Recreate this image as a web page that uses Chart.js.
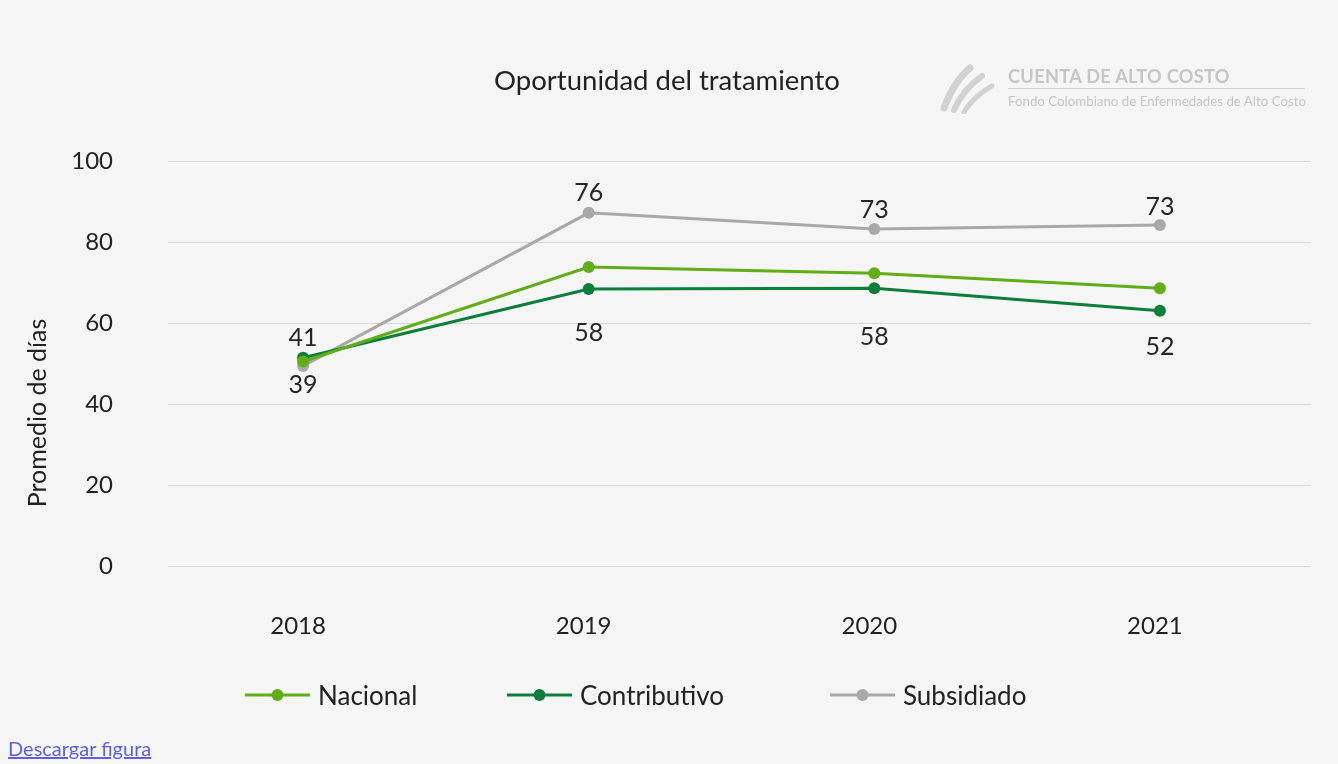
<!DOCTYPE html>
<html>
<head>
<meta charset="utf-8">
<script src="https://cdn.jsdelivr.net/npm/chart.js@4.4.0/dist/chart.umd.min.js"></script>
<style>
  html, body { margin: 0; padding: 0; background: #f6f6f6; }
  body { width: 1338px; height: 764px; position: relative; overflow: hidden; font-family: Lato, "Noto Sans", sans-serif; }
  #wrap { position: absolute; left: 0; top: 0; width: 1338px; height: 764px; }
  #logo { position: absolute; left: 938px; top: 62px; width: 380px; height: 52px; color: #c6c6c6; }
  #logo svg { position: absolute; left: 0; top: 0; }
  #logo .big { position: absolute; left: 70px; top: 3px; font-weight: bold; font-size: 18.2px; letter-spacing: 0.3px; }
  #logo .rule { position: absolute; left: 70px; top: 26px; width: 297px; height: 1px; background: #d0d0d0; }
  #logo .small { position: absolute; left: 70px; top: 31px; font-size: 13.3px; }
  #legend { position: absolute; left: 0; top: 680px; width: 1338px; height: 30px; }
  .item { position: absolute; top: 0; height: 30px; display: flex; align-items: center; font-size: 26px; color: #222; }
  .item svg { margin-right: 8px; }
  #dl { position: absolute; left: 8px; top: 736px; font-size: 20px; color: #5e5ee6; text-decoration: underline; }
</style>
</head>
<body>
<div id="wrap"><canvas id="myChart1"></canvas></div>
<div id="logo">
  <svg width="64" height="52" viewBox="0 0 64 52">
    <path d="M6 46 C12 30 20 16 32 6" stroke="#d2d2d2" stroke-width="7" fill="none" stroke-linecap="round"/>
    <path d="M16 48 C22 34 30 24 44 14" stroke="#d2d2d2" stroke-width="6" fill="none" stroke-linecap="round"/>
    <path d="M26 50 C32 40 40 32 54 24" stroke="#d2d2d2" stroke-width="5" fill="none" stroke-linecap="round"/>
  </svg>
  <div class="big">CUENTA DE ALTO COSTO</div>
  <div class="rule"></div>
  <div class="small">Fondo Colombiano de Enfermedades de Alto Costo</div>
</div>
<div id="legend"></div>
<a id="dl" href="#">Descargar figura</a>
<script>
const years = ['2018', '2019', '2020', '2021'];
const nacional = [50.5, 73.8, 72.3, 68.6];
const contributivo = [51.4, 68.4, 68.6, 63];
const subsidiado = [49.4, 87.2, 83.2, 84.2];
// printed labels on the chart (they don't match the plotted values)
const contributivoLabels = ['41', '58', '58', '52'];
const subsidiadoLabels = ['39', '76', '73', '73'];
const yTicks = [0, 20, 40, 60, 80, 100];

const fontFam = 'Lato, "Noto Sans", sans-serif';
const colors = ['#62ad1a', '#0a7e3a', '#a9a9a9'];

// draws the number labels above / below the points + the y axis title
const labelPlugin = {
  id: 'pointLabels',
  afterDatasetsDraw(chart){
    const ctx = chart.ctx;
    ctx.save();
    ctx.font = '25px ' + fontFam;
    ctx.fillStyle = '#262626';
    ctx.textAlign = 'center';
    ctx.textBaseline = 'middle';
    const sets = [
      {idx: 1, labels: contributivoLabels, off: [-20, 44, 49, 36]},
      {idx: 2, labels: subsidiadoLabels, off: [19, -20, -19, -18]}
    ];
    sets.forEach(s => {
      const meta = chart.getDatasetMeta(s.idx);
      meta.data.forEach((pt, i) => {
        ctx.fillText(s.labels[i], pt.x, pt.y + s.off[i]);
      });
    });
    // axis title, sits lower than the middle like in the original
    ctx.fillStyle = '#222';
    ctx.translate(38, 413);
    ctx.rotate(-Math.PI / 2);
    ctx.fillText('Promedio de días', 0, 0);
    ctx.restore();
  }
};

function ds(label, data, color){
  return {
    label: label,
    data: data,
    borderColor: color,
    backgroundColor: color,
    borderWidth: 3,
    pointRadius: 6,
    pointHoverRadius: 6,
    pointBorderWidth: 0,
    tension: 0
  };
}

const ctx1 = document.getElementById('myChart1');

const chart = new Chart(ctx1, {
  type: 'line',
  data: {
    labels: years,
    datasets: [
      ds('Nacional', nacional, colors[0]),
      ds('Contributivo', contributivo, colors[1]),
      ds('Subsidiado', subsidiado, colors[2])
    ]
  },
  plugins: [labelPlugin],
  options: {
    responsive: true,
    maintainAspectRatio: false,
    animation: false,
    layout: { padding: { top: 65, left: 23, right: 27, bottom: 118 } },
    plugins: {
      title: {
        display: true,
        text: 'Oportunidad del tratamiento',
        color: '#222',
        font: { family: fontFam, size: 27.5, weight: 'normal' },
        padding: { top: 0, bottom: 63 }
      },
      legend: { display: false },
      tooltip: { enabled: false }
    },
    scales: {
      x: {
        type: 'linear',
        min: 2017.527,
        max: 2021.529,
        afterFit(scale){ scale.height = 80; },
        afterBuildTicks(axis){ axis.ticks = years.map(v => ({value: Number(v)})); },
        grid: { display: false },
        border: { display: false },
        ticks: { color: '#222', padding: 38, labelOffset: -5, font: { family: fontFam, size: 24 }, callback: v => String(v) }
      },
      y: {
        min: 0,
        max: 100,
        afterFit(scale){ scale.width = 145; },
        afterBuildTicks(axis){ axis.ticks = yTicks.map(v => ({value: v})); },
        grid: { color: '#d9d9d9', lineWidth: 1, drawTicks: false },
        border: { display: false },
        ticks: { color: '#222', padding: 55, font: { family: fontFam, size: 24 } }
      }
    }
  }
});

// legend built from the datasets
const legendLeft = [245, 507, 830];
const legendEl = document.getElementById('legend');
chart.data.datasets.forEach((d, i) => {
  const c = d.borderColor;
  const item = document.createElement('div');
  item.className = 'item';
  item.style.left = legendLeft[i] + 'px';
  item.innerHTML = '<svg width="65" height="14"><line x1="0" y1="7" x2="65" y2="7" stroke="' + c +
    '" stroke-width="3"/><circle cx="32.5" cy="7" r="6" fill="' + c + '"/></svg><span>' + d.label + '</span>';
  legendEl.appendChild(item);
});
</script>
</body>
</html>
